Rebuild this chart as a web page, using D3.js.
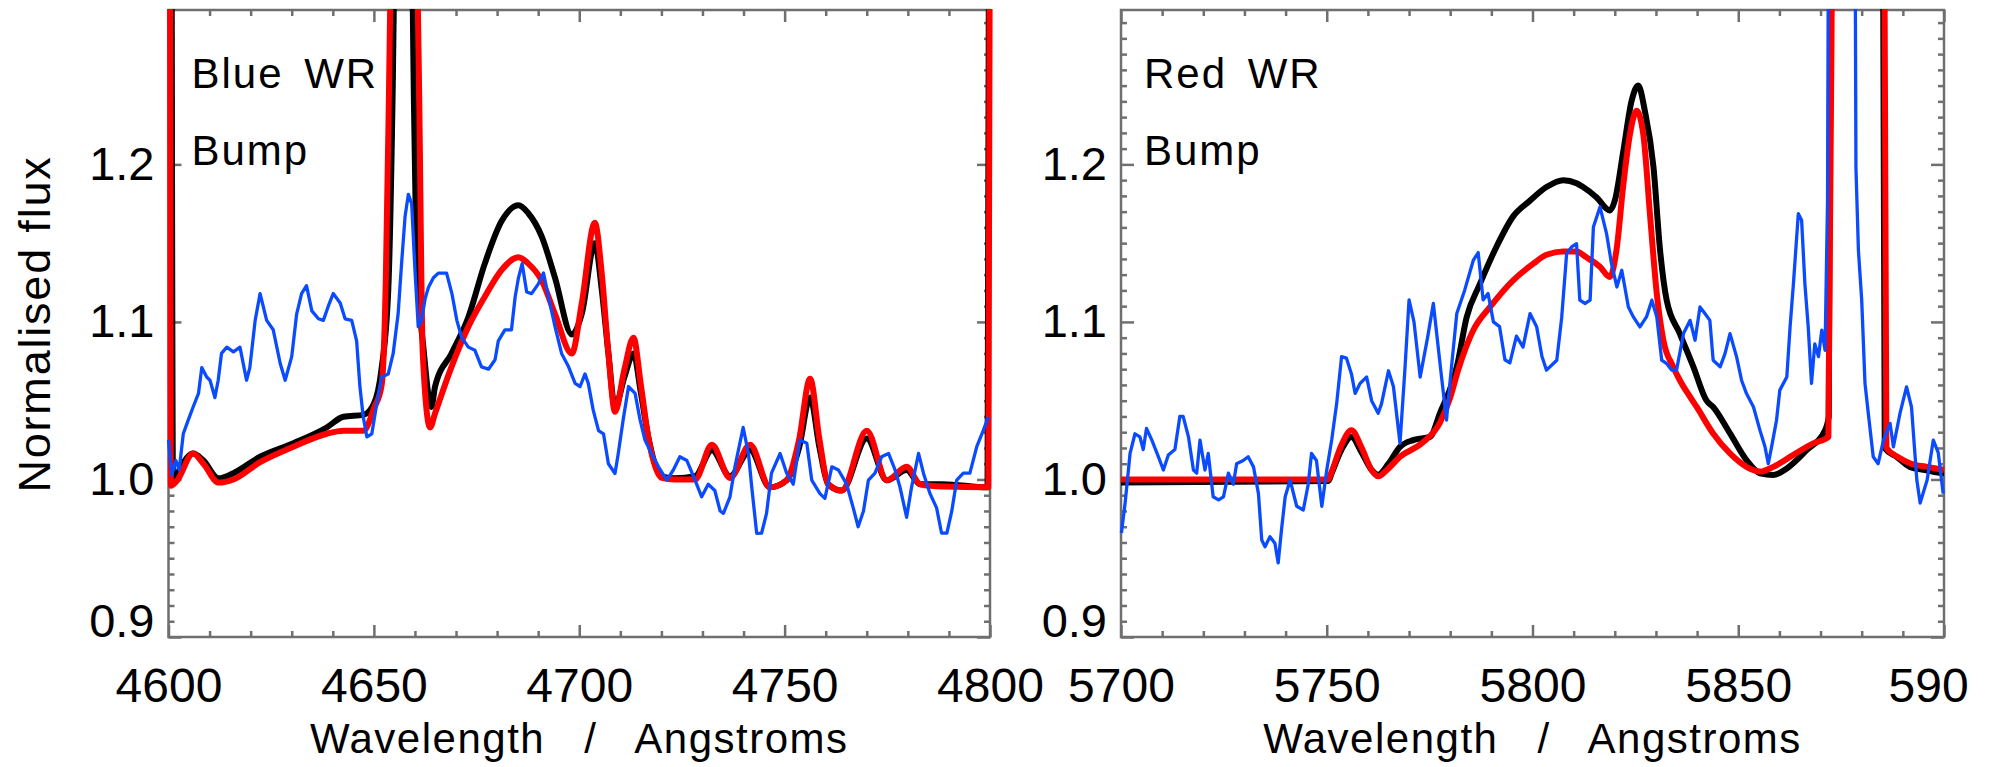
<!DOCTYPE html>
<html><head><meta charset="utf-8">
<script src="https://cdn.jsdelivr.net/npm/d3@7"></script>
<style>
html,body{margin:0;padding:0;background:#fff;}
svg{display:block;background:#fff;}
text{font-family:"Liberation Sans", Arial, Helvetica, sans-serif;fill:#000;}
</style></head><body>
<svg id="chart" width="1991" height="767"></svg>
<script>
// ---------- data (wavelength in Angstrom, normalised flux) ----------
const blueObserved = [[4600,1.025],[4600.8,1.003],[4601.8,1.012],[4602.6,1.006],[4603.6,1.029],[4604.8,1.0377],[4606.0,1.046],[4607.3,1.0546],[4608.1,1.071],[4609.3,1.065],[4610.1,1.063],[4611.3,1.052],[4612.1,1.063],[4612.9,1.080],[4614.2,1.084],[4615.8,1.081],[4617.4,1.084],[4619.0,1.063],[4619.8,1.071],[4621.1,1.101],[4622.3,1.118],[4623.9,1.101],[4625.5,1.095],[4627.2,1.0736],[4628.4,1.063],[4630.0,1.078],[4631.2,1.105],[4632.4,1.118],[4633.6,1.123],[4634.9,1.107],[4636.5,1.102],[4637.7,1.101],[4638.9,1.110],[4640.1,1.118],[4641.8,1.112],[4643.0,1.102],[4644.6,1.101],[4645.8,1.088],[4646.6,1.059],[4647.4,1.040],[4648.3,1.027],[4649.5,1.029],[4650.7,1.048],[4651.9,1.065],[4653.5,1.067],[4654.7,1.080],[4655.9,1.105],[4656.8,1.139],[4657.6,1.167],[4658.4,1.181],[4659.2,1.175],[4660.0,1.133],[4660.8,1.097],[4661.6,1.101],[4662.5,1.115],[4663.3,1.122],[4664.5,1.128],[4665.7,1.131],[4667.7,1.131],[4669,1.118],[4670.2,1.101],[4671.4,1.090],[4673,1.084],[4674.6,1.082],[4676.2,1.0715],[4677.9,1.070],[4679.5,1.076],[4680.3,1.088],[4681.9,1.095],[4683.5,1.095],[4684.4,1.116],[4685.2,1.128],[4686.1,1.137],[4687.2,1.119],[4688.4,1.118],[4690,1.124],[4691.3,1.131],[4692.5,1.116],[4694.1,1.097],[4695.7,1.080],[4697.4,1.0715],[4699,1.061],[4700.2,1.059],[4701.4,1.067],[4702.2,1.061],[4703.4,1.044],[4704.7,1.031],[4705.9,1.029],[4707.1,1.010],[4708.7,1.0038],[4709.5,1.0165],[4710.7,1.038],[4712,1.059],[4713.6,1.0546],[4714.8,1.038],[4716,1.025],[4717.6,1.0165],[4719.3,1.008],[4721.3,0.9996],[4722.9,1.006],[4724.5,1.0144],[4726.2,1.012],[4728.2,0.9996],[4729.8,0.989],[4731.4,0.997],[4733,0.993],[4734.3,0.980],[4735.1,0.9785],[4736.7,0.989],[4737.9,1.008],[4739.9,1.033],[4741.2,1.0165],[4742,0.995],[4743.2,0.9658],[4744.4,0.966],[4745.6,0.9785],[4746.8,1.004],[4748.9,1.0165],[4750.5,1.004],[4752.1,0.997],[4753.7,1.025],[4755.4,1.023],[4756.6,0.9996],[4758.6,0.991],[4759.8,0.988],[4761.5,1.008],[4763.1,1.006],[4765.1,0.997],[4766.7,0.982],[4767.9,0.970],[4769.2,0.980],[4770.4,0.9996],[4772,1.004],[4773.6,1.0144],[4775.3,1.0165],[4776.9,1.006],[4778.1,0.995],[4779.7,0.976],[4780.9,0.995],[4782.6,1.0165],[4783.8,1.004],[4785.4,0.991],[4787,0.982],[4788.2,0.966],[4789.5,0.966],[4790.7,0.980],[4791.9,0.9996],[4793.5,1.004],[4795.1,1.004],[4796.8,1.021],[4798.4,1.0313],[4799.6,1.0398]];

const blueModelBlack = [[4600.7,1.45],[4601.1,0.998],[4603,1.008],[4606,1.0165],[4608.5,1.012],[4612.2,1.0007],[4615.8,1.004],[4622.3,1.0144],[4630.4,1.023],[4638.5,1.033],[4642.6,1.0398],[4647.5,1.041],[4650,1.048],[4651.8,1.069],[4653.5,1.12],[4654.6,1.25],[4655.6,1.45],[4657.2,1.6],[4658.8,1.45],[4659.6,1.27],[4660.3,1.15],[4662.2,1.08],[4664,1.046],[4664.9,1.059],[4668.9,1.080],[4673,1.103],[4677,1.137],[4681.1,1.164],[4685.2,1.174],[4687.6,1.169],[4690.9,1.154],[4694.1,1.128],[4698.2,1.092],[4700.6,1.105],[4703.8,1.150],[4705.5,1.12],[4707.1,1.080],[4708.7,1.046],[4711,1.065],[4713.2,1.080],[4715,1.055],[4716.8,1.027],[4720.1,1.002],[4723.3,1.0007],[4728.2,1.002],[4732.3,1.0186],[4736.7,1.002],[4741.6,1.0186],[4746.4,0.995],[4750.5,0.9995],[4753.5,1.02],[4756.2,1.052],[4758.5,1.02],[4760.6,0.997],[4763.9,0.993],[4770,1.026],[4774.9,0.9995],[4779.7,1.006],[4783,0.997],[4788.6,0.997],[4799.4,0.995],[4799.9,1.5]];

const blueModelRed = [[4600.3,1.5],[4600.6,0.996],[4602,0.999],[4606,1.0165],[4608.5,1.01],[4612.2,0.998],[4615.8,1.0],[4622.3,1.011],[4630.4,1.0208],[4638.5,1.029],[4642.6,1.031],[4647.5,1.031],[4650,1.045],[4651.9,1.06],[4652.9,1.126],[4653.7,1.25],[4654.8,1.45],[4657.2,1.65],[4659.8,1.45],[4661.0,1.25],[4661.9,1.08],[4663.7,1.033],[4664.9,1.042],[4668.9,1.0715],[4673,1.097],[4677,1.116],[4681.1,1.133],[4685.2,1.141],[4687.6,1.137],[4690.9,1.126],[4694.1,1.105],[4698.2,1.080],[4700.6,1.1117],[4703.8,1.163],[4705.5,1.13],[4707.1,1.080],[4708.7,1.043],[4711,1.07],[4713.2,1.090],[4715,1.06],[4716.8,1.027],[4720.1,1.001],[4723.3,1.0],[4728.2,1.0],[4732.3,1.022],[4736.7,1.001],[4741.6,1.022],[4746.4,0.995],[4750.5,0.9995],[4753.5,1.025],[4756.2,1.064],[4758.5,1.025],[4760.6,0.997],[4763.9,0.993],[4770,1.031],[4774.9,0.9995],[4779.7,1.008],[4783,0.997],[4788.6,0.9955],[4799.6,0.995],[4800.1,1.5]];

const redObserved = [[5700.1,0.966],[5701,0.985],[5702.2,1.0165],[5703.4,1.029],[5704.6,1.027],[5705.4,1.019],[5706.2,1.0324],[5707.5,1.025],[5709.1,1.0144],[5710.3,1.006],[5711.5,1.0155],[5713.1,1.019],[5714.3,1.040],[5715.1,1.040],[5716.4,1.027],[5717.6,1.006],[5718.4,1.004],[5719.2,1.025],[5720.4,1.006],[5721.2,1.0165],[5722.4,0.989],[5723.7,0.987],[5724.9,0.989],[5726.1,1.004],[5727.3,0.997],[5728.1,1.010],[5729.7,1.012],[5730.9,1.0144],[5732.2,1.008],[5733.4,0.991],[5734.2,0.9616],[5735,0.9573],[5736.2,0.9637],[5737.4,0.9595],[5738.2,0.947],[5739,0.968],[5739.9,0.989],[5741.1,0.9996],[5742.7,0.983],[5744.3,0.9806],[5745.5,0.997],[5746.3,1.0165],[5747.5,1.012],[5748.8,0.983],[5750,1.006],[5751.2,1.025],[5752.4,1.048],[5753.6,1.078],[5754.8,1.077],[5756,1.067],[5756.9,1.0546],[5758.1,1.061],[5759.7,1.065],[5760.9,1.050],[5762.5,1.042],[5763.3,1.048],[5765,1.069],[5766.2,1.059],[5767.8,1.023],[5769,1.07],[5770,1.114],[5771.2,1.10],[5772.7,1.065],[5774.5,1.09],[5775.9,1.1117],[5777.9,1.065],[5779.1,1.0377],[5780,1.063],[5781.6,1.1053],[5783.5,1.12],[5785.6,1.139],[5786.8,1.144],[5788,1.114],[5789.2,1.118],[5790.5,1.1],[5792,1.097],[5793.3,1.076],[5794.5,1.074],[5796.1,1.091],[5797.7,1.084],[5799.4,1.1053],[5801,1.097],[5802.3,1.078],[5803.4,1.0694],[5805.9,1.0757],[5807.1,1.103],[5808.3,1.1434],[5809.5,1.1476],[5810.7,1.1497],[5811.5,1.1138],[5812.8,1.1117],[5814,1.1138],[5814.8,1.1603],[5816.4,1.173],[5818,1.156],[5819.2,1.137],[5820.5,1.1222],[5821.7,1.1328],[5823.3,1.1095],[5824.5,1.1032],[5826.1,1.0968],[5827.7,1.1032],[5829,1.1138],[5830.2,1.1032],[5831.4,1.0757],[5832.6,1.0736],[5833.8,1.0694],[5835,1.0694],[5836.7,1.0926],[5838.3,1.101],[5839.5,1.0884],[5840.7,1.1095],[5841.9,1.1053],[5843.1,1.101],[5843.9,1.0757],[5845.6,1.0715],[5846.8,1.080],[5848,1.0926],[5849.6,1.0778],[5850.8,1.063],[5852,1.0545],[5853.7,1.046],[5855.3,1.031],[5856.5,1.0207],[5857.3,1.010],[5858.1,1.0207],[5859.3,1.0376],[5860.1,1.0567],[5861.8,1.065],[5862.6,1.097],[5863.4,1.124],[5864.6,1.1687],[5865.4,1.1645],[5866.2,1.124],[5867,1.097],[5867.8,1.061],[5868.6,1.086],[5869.5,1.078],[5870.3,1.0948],[5871.1,1.082],[5871.7,1.177],[5872.1,1.5],[5875,2.0],[5878.2,1.5],[5878.6,1.198],[5879.2,1.1455],[5880,1.114],[5880.8,1.061],[5881.6,1.042],[5882.8,1.0144],[5884,1.010],[5885.3,1.025],[5886.9,1.0356],[5887.7,1.0207],[5889.3,1.0419],[5890.9,1.0588],[5892.1,1.046],[5893.4,0.9996],[5894.2,0.985],[5895.9,0.9996],[5897.4,1.025],[5898.6,1.017],[5899.8,0.991]];

const redModelBlack = [[5700,0.998],[5750.4,0.999],[5751.2,1.004],[5753.6,1.019],[5756,1.027],[5758.5,1.017],[5760.9,1.006],[5762.5,1.003],[5765,1.010],[5767.8,1.0207],[5771,1.025],[5775.1,1.027],[5777.5,1.042],[5780.7,1.063],[5781.6,1.0715],[5784,1.103],[5787.2,1.124],[5791.3,1.148],[5795.3,1.167],[5799.4,1.177],[5803.4,1.1856],[5807.5,1.190],[5810.7,1.188],[5812.3,1.1856],[5815.6,1.179],[5818.8,1.1708],[5820,1.177],[5822.1,1.209],[5824.1,1.2406],[5825.7,1.250],[5827.3,1.234],[5829.4,1.1983],[5831,1.1455],[5832.6,1.1138],[5835.8,1.0926],[5839.1,1.0715],[5842.3,1.050],[5843.9,1.046],[5848,1.0292],[5852,1.0123],[5855.3,1.0039],[5858.5,1.0028],[5861.8,1.007],[5866.6,1.0186],[5871.1,1.0313],[5872,1.04],[5872.6,1.5],[5879,2.2],[5885,1.5],[5885.6,1.02],[5888.5,1.0144],[5891.7,1.008],[5895.4,1.006],[5899.8,1.004],[5900,1.004]];

const redModelRed = [[5700,1.0],[5750.4,1.0],[5751.2,1.005],[5753.6,1.022],[5756,1.0313],[5758.5,1.02],[5760.9,1.006],[5762.5,1.002],[5765,1.007],[5767.8,1.0144],[5773,1.0228],[5777.5,1.036],[5780,1.052],[5782,1.07],[5785.6,1.0947],[5789.7,1.1095],[5795.3,1.1264],[5800.2,1.137],[5803.4,1.1426],[5807.5,1.1447],[5810.7,1.1447],[5813.1,1.141],[5816.4,1.135],[5818.8,1.1285],[5820.4,1.1455],[5822.1,1.1877],[5823.7,1.2195],[5825.3,1.234],[5826.9,1.2195],[5828.6,1.1666],[5830.2,1.118],[5831.8,1.0884],[5834.2,1.0715],[5835.8,1.063],[5838.3,1.0524],[5839.9,1.046],[5843.9,1.0292],[5848,1.0165],[5852,1.008],[5855.3,1.005],[5858.5,1.008],[5863.3,1.0155],[5868.2,1.0229],[5871.9,1.027],[5873.2,1.5],[5879,2.2],[5885.3,1.5],[5886,1.02],[5889,1.014],[5892,1.01],[5896,1.008],[5900,1.006]];

// axis ticks and labels
const yDomain = [0.9, 1.298];
const yTickValues = [0.9, 1.0, 1.1, 1.2];
const yTickLabels = ["0.9", "1.0", "1.1", "1.2"];
const blueXDomain = [4600, 4800];
const blueXTicks = [4600, 4650, 4700, 4750, 4800];
const blueXLabels = ["4600", "4650", "4700", "4750", "4800"];
const redXDomain = [5700, 5900];
const redXTicks = [5700, 5750, 5800, 5850, 5900];
const redXLabels = ["5700", "5750", "5800", "5850", "590"];
const panelTitles = [["Blue WR", "Bump"], ["Red WR", "Bump"]];
const xTitle = "Wavelength / Angstroms";
const yTitle = "Normalised flux";

// ---------- drawing ----------
const svg = d3.select("#chart");
const TOP = 10, BOTTOM = 637;
const AXIS_COLOR = "#6f6f6f";
const COL_BLUE = "#0a4bff", COL_RED = "#ff0000", COL_BLACK = "#000000";

function panel(id, left, right, xDomain, xTicks, xLabels, titles, obs, mBlack, mRed) {
  const x = d3.scaleLinear().domain(xDomain).range([left, right]);
  const y = d3.scaleLinear().domain(yDomain).range([BOTTOM, TOP]);
  const g = svg.append("g");

  const minorX = d3.range(xDomain[0], xDomain[1] + 0.1, 10).filter(v => Math.round(v) % 50 !== 0);
  const minorY = d3.range(0, 40).filter(i => i % 10 !== 0).map(i => 0.9 + i * 0.01);

  function styleAxis(sel) {
    sel.attr("color", AXIS_COLOR).attr("font-size", null).attr("font-family", null);
    sel.select(".domain").remove();
    sel.selectAll(".tick line").attr("stroke-width", 2.5);
  }
  g.append("g").attr("transform", `translate(0,${BOTTOM})`)
    .call(d3.axisBottom(x).tickValues(minorX).tickSize(-6).tickFormat("")).call(styleAxis);
  g.append("g").attr("transform", `translate(0,${TOP})`)
    .call(d3.axisTop(x).tickValues(minorX).tickSize(-6).tickFormat("")).call(styleAxis);
  g.append("g").attr("transform", `translate(${left},0)`)
    .call(d3.axisLeft(y).tickValues(minorY).tickSize(-6).tickFormat("")).call(styleAxis);
  g.append("g").attr("transform", `translate(${right},0)`)
    .call(d3.axisRight(y).tickValues(minorY).tickSize(-6).tickFormat("")).call(styleAxis);
  const bx = g.append("g").attr("transform", `translate(0,${BOTTOM})`)
    .call(d3.axisBottom(x).tickValues(xTicks).tickSize(-12).tickFormat((d, i) => xLabels[i])).call(styleAxis);
  bx.selectAll("text").attr("y", 65).attr("dy", 0).attr("font-size", 48).attr("fill", "#000")
    .attr("text-anchor", (d, i) => xLabels[i].length < 4 ? "start" : "middle")
    .attr("x", (d, i) => xLabels[i].length < 4 ? -56 : 0);
  g.append("g").attr("transform", `translate(0,${TOP})`)
    .call(d3.axisTop(x).tickValues(xTicks).tickSize(-12).tickFormat("")).call(styleAxis);
  const ly = g.append("g").attr("transform", `translate(${left},0)`)
    .call(d3.axisLeft(y).tickValues(yTickValues).tickSize(-13).tickPadding(14).tickFormat((d, i) => yTickLabels[i])).call(styleAxis);
  ly.selectAll("text").attr("font-size", 47).attr("fill", "#000")
    .attr("dy", (d, i) => i === 0 ? "-0.02em" : "0.32em");
  g.append("g").attr("transform", `translate(${right},0)`)
    .call(d3.axisRight(y).tickValues(yTickValues).tickSize(-13).tickFormat("")).call(styleAxis);

  g.append("rect").attr("x", left).attr("y", TOP).attr("width", right - left).attr("height", BOTTOM - TOP)
    .attr("fill", "none").attr("stroke", AXIS_COLOR).attr("stroke-width", 2.5);

  svg.append("defs").append("clipPath").attr("id", "clip" + id)
    .append("rect").attr("x", left - 4).attr("y", TOP - 1).attr("width", right - left + 8).attr("height", BOTTOM - TOP + 1);
  const lines = g.append("g").attr("clip-path", `url(#clip${id})`);
  const modelLine = d3.line().x(d => x(d[0])).y(d => y(d[1])).curve(d3.curveMonotoneX);
  const obsLine = d3.line().x(d => x(d[0])).y(d => y(d[1]));
  lines.append("path").datum(mBlack).attr("d", modelLine).attr("fill", "none")
    .attr("stroke", COL_BLACK).attr("stroke-width", 6).attr("stroke-linejoin", "round");
  lines.append("path").datum(mRed).attr("d", modelLine).attr("fill", "none")
    .attr("stroke", COL_RED).attr("stroke-width", 6).attr("stroke-linejoin", "round");
  lines.append("path").datum(obs).attr("d", obsLine).attr("fill", "none")
    .attr("stroke", COL_BLUE).attr("stroke-width", 3.3).attr("stroke-linejoin", "round");

  g.append("text").attr("x", left + 23).attr("y", 88).attr("font-size", 42)
    .attr("letter-spacing", 2).attr("word-spacing", 7).text(titles[0]);
  g.append("text").attr("x", left + 23).attr("y", 165).attr("font-size", 42)
    .attr("letter-spacing", 2).text(titles[1]);

  g.append("text").attr("x", (left + right) / 2).attr("y", 753).attr("text-anchor", "middle")
    .attr("font-size", 42).attr("letter-spacing", 1.5).attr("word-spacing", 26).text(xTitle);
}

panel("A", 168.5, 990, blueXDomain, blueXTicks, blueXLabels, panelTitles[0], blueObserved, blueModelBlack, blueModelRed);
panel("B", 1121, 1944, redXDomain, redXTicks, redXLabels, panelTitles[1], redObserved, redModelBlack, redModelRed);

svg.append("text").attr("transform", "translate(50,324) rotate(-90)").attr("text-anchor", "middle")
  .attr("font-size", 45).attr("letter-spacing", 1.8).text(yTitle);
</script>
</body></html>
